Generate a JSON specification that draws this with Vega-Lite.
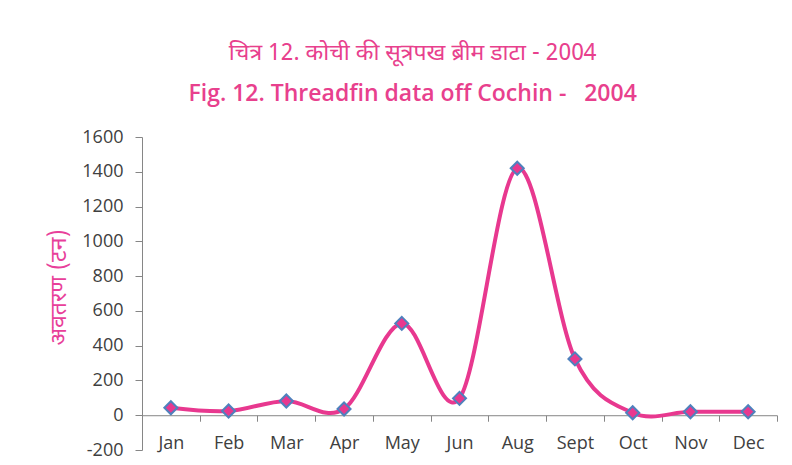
{
  "$schema": "https://vega.github.io/schema/vega-lite/v6.json",
  "width": 635,
  "height": 313,
  "autosize": {"type": "none"},
  "padding": {"left": 142, "top": 137, "right": 15, "bottom": 15},
  "background": "white",
  "config": {
    "view": {"stroke": null},
    "axis": {"grid": false}
  },
  "title": {
    "text": "चित्र 12. कोची की सूत्रपख ब्रीम डाटा - 2004",
    "subtitle": "Fig. 12. Threadfin data off Cochin -\u00a0\u00a0\u00a02004",
    "anchor": "middle",
    "frame": "bounds",
    "color": "#E8408D",
    "subtitleColor": "#E8408D",
    "font": "Noto Sans Devanagari, Lohit Devanagari, Noto Sans, sans-serif",
    "fontSize": 23,
    "fontWeight": "normal",
    "subtitleFont": "Open Sans",
    "subtitleFontSize": 23,
    "subtitleFontWeight": 600,
    "subtitlePadding": 18,
    "offset": 22
  },
  "data": {
    "values": [
      {"month": "Jan", "catch": 43},
      {"month": "Feb", "catch": 24},
      {"month": "Mar", "catch": 82},
      {"month": "Apr", "catch": 36},
      {"month": "May", "catch": 528},
      {"month": "Jun", "catch": 97},
      {"month": "Aug", "catch": 1420},
      {"month": "Sept", "catch": 324},
      {"month": "Oct", "catch": 14},
      {"month": "Nov", "catch": 20},
      {"month": "Dec", "catch": 20}
    ]
  },
  "encoding": {
    "x": {
      "field": "month",
      "type": "ordinal",
      "sort": null,
      "bandPosition": 0.5,
      "scale": {"type": "band", "paddingInner": 0, "paddingOuter": 0},
      "axis": {
        "title": null,
        "labelAngle": 0,
        "offset": -34.78,
        "tickBand": "extent",
        "tickSize": 6,
        "tickColor": "#868686",
        "domainColor": "#868686",
        "labelFont": "Open Sans",
        "labelFontSize": 18,
        "labelColor": "#404040",
        "labelPadding": 13
      }
    },
    "y": {
      "field": "catch",
      "type": "quantitative",
      "scale": {"domain": [-200, 1600], "nice": false, "zero": false},
      "axis": {
        "title": "अवतरण (टन)",
        "titleColor": "#E8409A",
        "titleFont": "Noto Sans Devanagari, Lohit Devanagari, Noto Sans, sans-serif",
        "titleFontSize": 23,
        "titleFontWeight": "normal",
        "titlePadding": 11,
        "titleY": 150,
        "values": [-200, 0, 200, 400, 600, 800, 1000, 1200, 1400, 1600],
        "labelExpr": "'' + datum.value",
        "tickSize": 7,
        "tickColor": "#868686",
        "domainColor": "#868686",
        "labelFont": "Open Sans",
        "labelFontSize": 18,
        "labelColor": "#404040",
        "labelPadding": 12
      }
    }
  },
  "layer": [
    {
      "mark": {"type": "line", "interpolate": "cardinal", "color": "#E8388F", "strokeWidth": 4}
    },
    {
      "mark": {"type": "point", "shape": "diamond", "size": 170, "filled": true, "fill": "#E8388F", "stroke": "#4F81BD", "strokeWidth": 2, "opacity": 1}
    }
  ]
}
